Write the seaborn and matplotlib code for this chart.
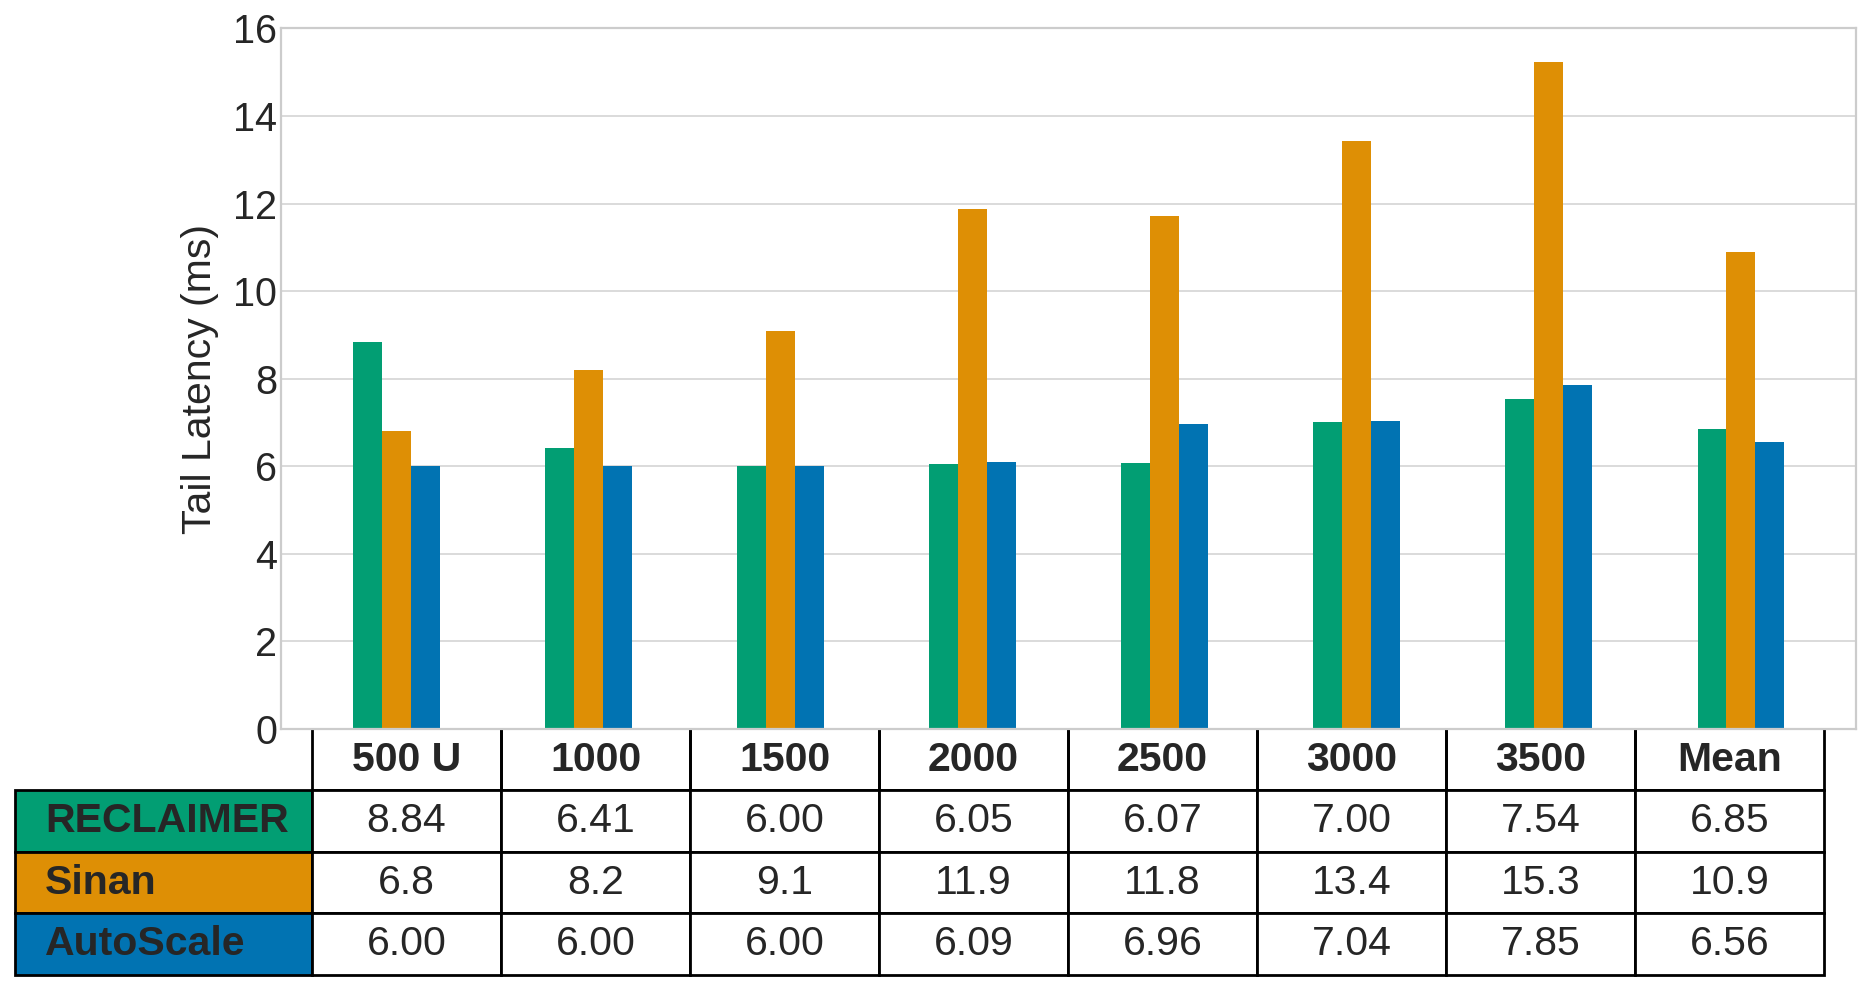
import matplotlib
matplotlib.use("Agg")
import matplotlib.pyplot as plt
import seaborn as sns
import pandas as pd

categories = ["500 U", "1000", "1500", "2000", "2500", "3000", "3500", "Mean"]
systems = ["RECLAIMER", "Sinan", "AutoScale"]
reclaimer = [8.84, 6.41, 6.00, 6.05, 6.07, 7.00, 7.54, 6.85]
sinan = [6.80, 8.21, 9.10, 11.87, 11.72, 13.43, 15.23, 10.90]
autoscale = [6.00, 6.00, 6.00, 6.09, 6.96, 7.04, 7.85, 6.56]
reclaimer_txt = ["8.84", "6.41", "6.00", "6.05", "6.07", "7.00", "7.54", "6.85"]
sinan_txt = ["6.8", "8.2", "9.1", "11.9", "11.8", "13.4", "15.3", "10.9"]
autoscale_txt = ["6.00", "6.00", "6.00", "6.09", "6.96", "7.04", "7.85", "6.56"]
colors = ["#029E73", "#DE8F05", "#0173B2"]
yticks = [0, 2, 4, 6, 8, 10, 12, 14, 16]

sns.set_theme(style="whitegrid")
plt.rcParams['font.family'] = ['Liberation Sans', 'DejaVu Sans']
plt.rcParams['text.color'] = '#262626'

df = pd.DataFrame({
    "Load": categories * 3,
    "Latency": reclaimer + sinan + autoscale,
    "System": [systems[0]] * 8 + [systems[1]] * 8 + [systems[2]] * 8,
})

fig = plt.figure(figsize=(18.7, 9.91), dpi=100)
ax = fig.add_axes([0.1503, 0.2644, 0.8422, 0.7069])
sns.barplot(data=df, x="Load", y="Latency", hue="System", order=categories,
            hue_order=systems, palette=colors, width=0.45, gap=0,
            saturation=1, errorbar=None, legend=False, linewidth=0, ax=ax)
ax.set_xlim(-0.6, 7.6)
ax.set_ylim(0, 16)
ax.set_yticks(yticks)
ax.tick_params(axis='y', labelsize=28.5, pad=3, length=0, labelcolor='#262626')
ax.tick_params(axis='x', labelbottom=False, length=0)
ax.set_xlabel('')
ax.set_ylabel('Tail Latency (ms)', fontsize=29.5, labelpad=10, color='#262626')
for s in ax.spines.values():
    s.set_color('#cccccc')
    s.set_linewidth(1.6)
ax.grid(axis='y', color='#d4d4d4', linewidth=1.2)
ax.grid(axis='x', visible=False)

cell_text = [[systems[0]] + reclaimer_txt,
             [systems[1]] + sinan_txt,
             [systems[2]] + autoscale_txt]
col_labels = [''] + categories
tot = 297 + 189 * 8
tbl = ax.table(cellText=cell_text, colLabels=col_labels,
               colWidths=[297 / tot] + [189 / tot] * 8,
               bbox=[-0.1689, -0.351, 1.1486, 0.351], cellLoc='center')
tbl.auto_set_font_size(False)
tbl.set_fontsize(29.5)
for (r, c), cell in tbl.get_celld().items():
    cell.set_edgecolor('black')
    cell.set_linewidth(2)
    txt = cell.get_text()
    txt.set_color('#262626')
    if r == 0:
        if c == 0:
            cell.visible_edges = 'open'
        else:
            cell.visible_edges = 'BRL'
            txt.set_fontweight('bold')
    else:
        if c == 0:
            cell.set_facecolor(colors[r - 1])
            cell._loc = 'left'
            txt.set_ha('left')
            txt.set_fontweight('bold')

fig.savefig("out.png", dpi=100)
